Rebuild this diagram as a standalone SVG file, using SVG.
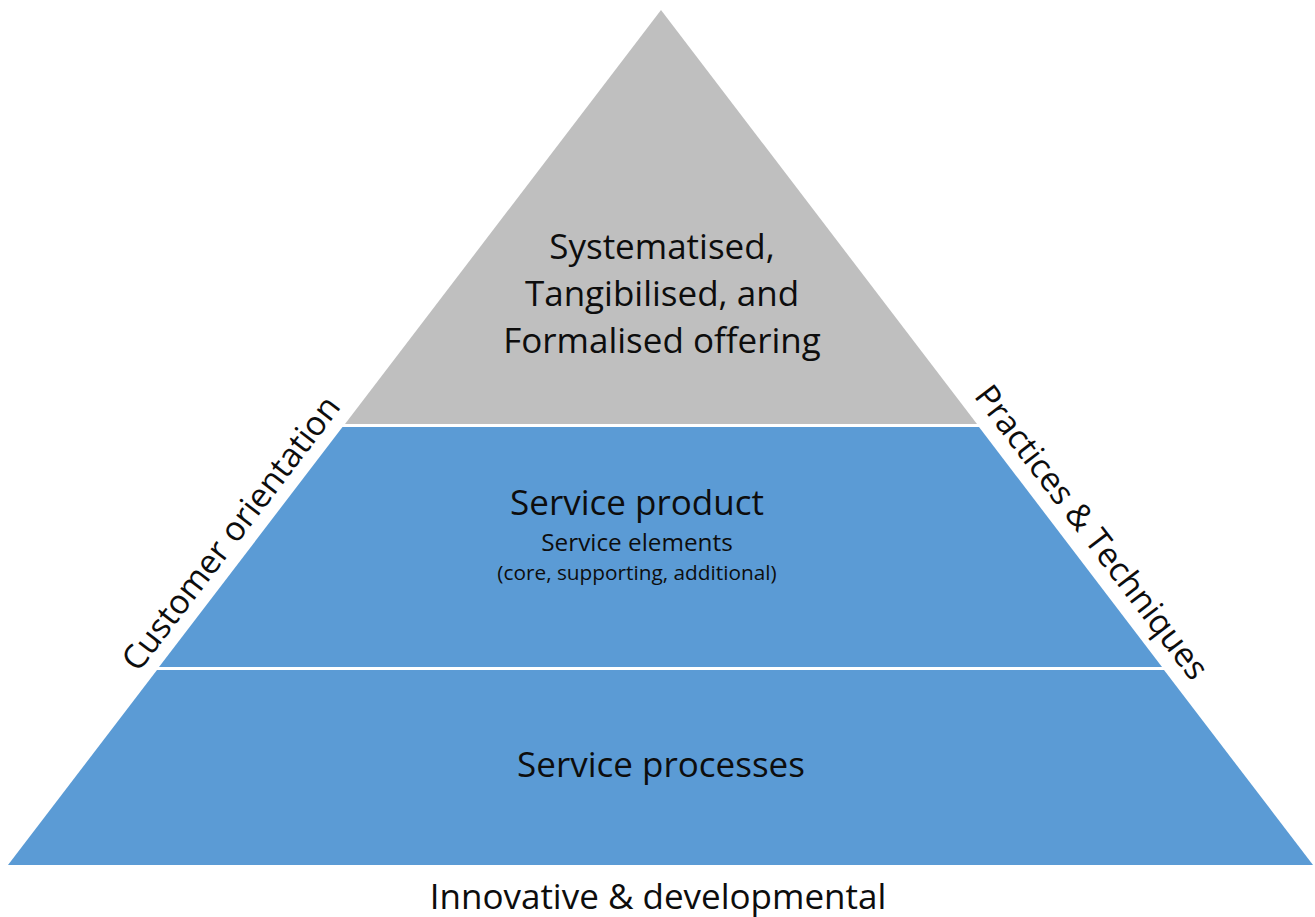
<svg xmlns="http://www.w3.org/2000/svg" width="1315" height="917" viewBox="0 0 1315 917">
  <style>
    .t { font-family: "Open Sans", "Noto Sans", "Liberation Sans", sans-serif; fill: #0d0d0d; text-anchor: middle; }
    .big { font-size: 35px; }
    .side { font-size: 33.5px; }
    .mid { font-size: 24.3px; }
    .small { font-size: 20.8px; }
    .gray { fill: #BFBFBF; }
    .blue { fill: #5B9BD5; }
  </style>
  <rect width="1315" height="917" fill="#ffffff"/>
  <g id="layer-top">
    <polygon class="gray" points="661,10 977,424 345,424"/>
    <text class="t big" x="662" y="259">Systematised,</text>
    <text class="t big" x="662" y="306">Tangibilised, and</text>
    <text class="t big" x="662" y="353">Formalised offering</text>
  </g>
  <g id="layer-middle">
    <polygon class="blue" points="342.5,427 979,427 1162,667 159,667"/>
    <text class="t big" x="637" y="515">Service product</text>
    <text class="t mid" x="637" y="551">Service elements</text>
    <text class="t small" x="637" y="580">(core, supporting, additional)</text>
  </g>
  <g id="layer-bottom">
    <polygon class="blue" points="157,670 1164,670 1313,865 8,865"/>
    <text class="t big" x="661" y="777">Service processes</text>
  </g>
  <g id="label-left">
    <text class="t side" transform="translate(249.5,547.5) rotate(-52.6)" x="0" y="-12">Customer orientation</text>
  </g>
  <g id="label-right">
    <text class="t side" transform="translate(1073,546.5) rotate(52.6)" x="0" y="-12">Practices &amp; Techniques</text>
  </g>
  <g id="label-bottom">
    <text class="t big" x="658" y="909">Innovative &amp; developmental</text>
  </g>
  <g id="connectors"/>
</svg>
